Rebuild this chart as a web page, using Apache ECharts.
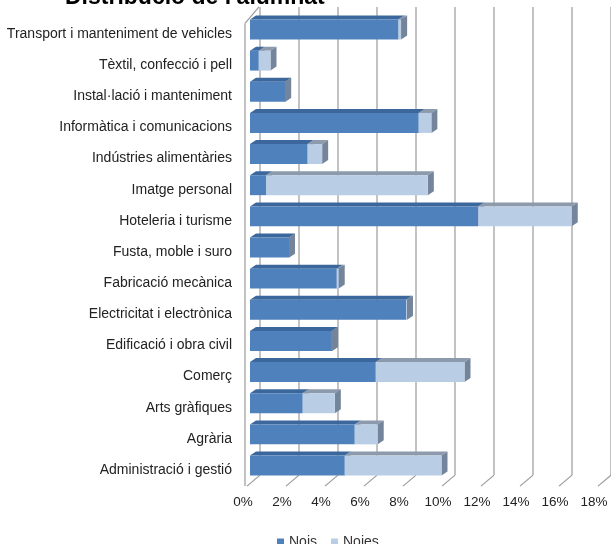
<!DOCTYPE html>
<html><head><meta charset="utf-8">
<script src="https://cdn.jsdelivr.net/npm/echarts@6/dist/echarts.min.js"></script>
<style>html,body{margin:0;padding:0;background:#fff}#c{width:611px;height:544px}</style>
</head><body><div id="c"></div>
<script>
const categories = [
  'Transport i manteniment de vehicles',
  'Tèxtil, confecció i pell',
  'Instal·lació i manteniment',
  'Informàtica i comunicacions',
  'Indústries alimentàries',
  'Imatge personal',
  'Hoteleria i turisme',
  'Fusta, moble i suro',
  'Fabricació mecànica',
  'Electricitat i electrònica',
  'Edificació i obra civil',
  'Comerç',
  'Arts gràfiques',
  'Agrària',
  'Administració i gestió'
];
const nois  = [7.6, 0.45, 1.8, 8.65, 2.95, 0.82, 11.7, 2.0, 4.45, 8.0, 4.2, 6.45, 2.7, 5.37, 4.86];
const noies = [0.15, 0.6, 0.0, 0.65, 0.75, 8.3, 4.8, 0.0, 0.1, 0.05, 0.0, 4.55, 1.65, 1.18, 4.96];
const xTicks = [0, 2, 4, 6, 8, 10, 12, 14, 16, 18];

const FONT = '"Liberation Sans", Arial, sans-serif';
const FRONT_X = 10, FRONT_Y = 4.5, DX = 6, DY = 4;

function barRender(colors) {
  return function (params, api) {
    const c = api.value(0), s = api.value(1), e = api.value(2);
    const p0 = api.coord([s, c]);
    const p1 = api.coord([e, c]);
    const h = api.size([0, 1])[1] * 0.64;
    const x0 = p0[0] - FRONT_X, x1 = p1[0] - FRONT_X;
    const yc = p0[1] - FRONT_Y;
    const yt = yc - h / 2, yb = yc + h / 2;
    return {
      type: 'group',
      children: [
        { type: 'polygon', shape: { points: [[x0, yt], [x1, yt], [x1 + DX, yt - DY], [x0 + DX, yt - DY]] }, style: { fill: colors.top } },
        { type: 'polygon', shape: { points: [[x1, yt], [x1 + DX, yt - DY], [x1 + DX, yb - DY], [x1, yb]] }, style: { fill: colors.side } },
        { type: 'rect', shape: { x: x0, y: yt, width: Math.max(0, x1 - x0), height: yb - yt }, style: { fill: colors.front } }
      ]
    };
  };
}

function gridRender(params, api) {
  const t = api.value(0);
  const cs = params.coordSys;
  const x = api.coord([t, 0])[0];
  const top = cs.y, bot = cs.y + cs.height;
  const st = { stroke: '#9a9a9a', lineWidth: 1.2, fill: null };
  const children = [
    { type: 'line', shape: { x1: x, y1: top - 11.5, x2: x, y2: bot - 10.5 }, style: st },
    { type: 'line', shape: { x1: x, y1: bot - 10.5, x2: x - 13, y2: bot + 0.5 }, style: st }
  ];
  if (t === xTicks[0]) {
    children.push({ type: 'line', shape: { x1: x - 15, y1: top + 5, x2: x - 15, y2: bot + 0.5 }, style: st });
    children.push({ type: 'line', shape: { x1: x - 15, y1: top + 5, x2: x - 1, y2: top - 11.5 }, style: st });
  }
  return { type: 'group', children: children };
}

const chart = echarts.init(document.getElementById('c'));
chart.setOption({
  animation: false,
  backgroundColor: '#fff',
  title: {
    text: "Distribució de l'alumnat",
    left: 60, top: -19,
    textStyle: { fontFamily: FONT, fontSize: 23, fontWeight: 'bold', color: '#000' }
  },
  legend: {
    left: 272, top: 530,
    icon: 'rect', itemWidth: 7, itemHeight: 7, itemGap: 14,
    textStyle: { fontFamily: FONT, fontSize: 14, color: '#333' },
    data: ['Nois', 'Noies']
  },
  grid: { left: 260, right: 0, top: 18.4, bottom: 58.4, containLabel: false },
  xAxis: {
    type: 'value', min: 0, max: 18, interval: 2,
    axisLine: { show: false }, axisTick: { show: false }, splitLine: { show: false },
    axisLabel: {
      formatter: '{value}%', margin: 10, padding: [0, 34, 0, 0],
      fontFamily: FONT, fontSize: 13.5, color: '#222'
    }
  },
  yAxis: {
    type: 'category', inverse: true, data: categories,
    axisLine: { show: false }, axisTick: { show: false }, splitLine: { show: false },
    axisLabel: { margin: 28, fontFamily: FONT, fontSize: 14, color: '#222' }
  },
  series: [
    {
      type: 'custom', name: 'grid', silent: true, z: 1,
      renderItem: gridRender,
      encode: { x: 0, y: 1 },
      data: xTicks.map(t => [t, 0])
    },
    {
      type: 'custom', name: 'Nois', z: 2,
      itemStyle: { color: '#4F81BD' },
      renderItem: barRender({ front: '#4F81BD', top: '#3C679C', side: '#6B7F98' }),
      encode: { y: 0, x: [1, 2] },
      data: categories.map((c, i) => [i, 0, nois[i]])
    },
    {
      type: 'custom', name: 'Noies', z: 3,
      itemStyle: { color: '#B9CDE5' },
      renderItem: barRender({ front: '#B9CDE5', top: '#8D9AAB', side: '#74859B' }),
      encode: { y: 0, x: [1, 2] },
      data: categories.map((c, i) => [i, nois[i], nois[i] + noies[i]])
    }
  ]
});
</script>
</body></html>
